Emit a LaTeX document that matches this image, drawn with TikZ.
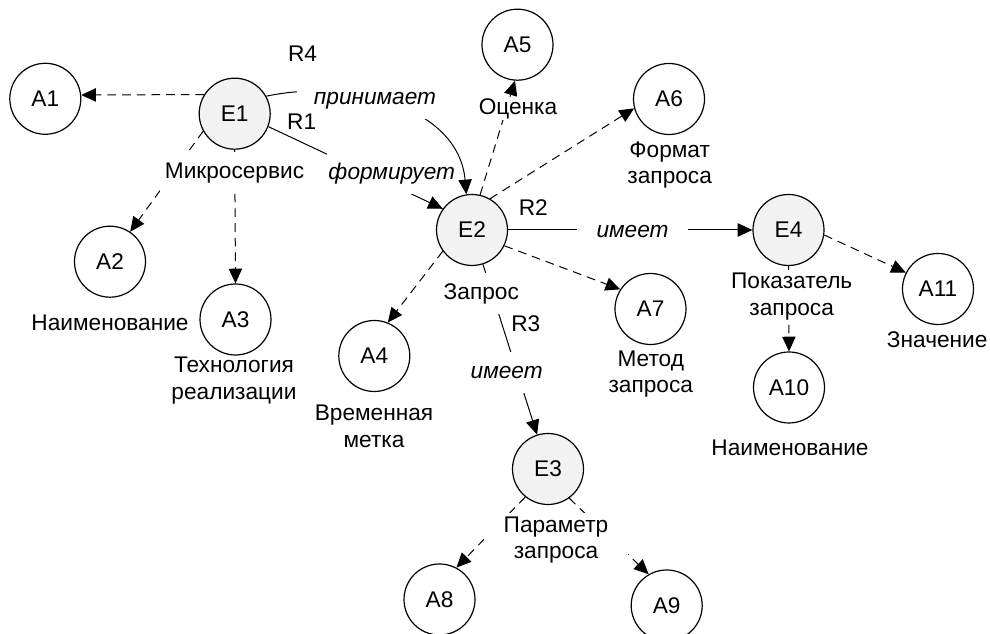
\documentclass[tikz,border=0pt]{standalone}
\usepackage{fontspec}
\setmainfont{Liberation Sans}
\usetikzlibrary{arrows.meta}
\definecolor{efill}{RGB}{242,242,242}
\begin{document}
\begin{tikzpicture}[x=0.75pt,y=0.75pt,
  font=\fontsize{17}{20}\selectfont,
  ent/.style={circle, draw, line width=0.9pt, fill=efill, minimum size=53.25pt, inner sep=0pt},
  attr/.style={circle, draw, line width=0.9pt, fill=white, minimum size=53.25pt, inner sep=0pt},
  conn/.style={line width=0.75pt},
  att/.style={conn, dash pattern=on 6.5pt off 4.5pt, -{Triangle[length=11pt,width=10pt]}},
  rel/.style={conn, -{Triangle[length=11pt,width=10pt]}},
  lbl/.style={fill=white, inner sep=0.5pt, align=center},
  one/.style={text height=12.5pt, text depth=3.5pt},
  rtxt/.style={font=\fontsize{17}{20}\selectfont\itshape}
]
\useasboundingbox (0,0) rectangle (990,634);

% nodes
\node[attr] (a1) at (45.3,535.2) {A1};
\node[ent]  (e1) at (234.7,520.3) {E1};
\node[attr] (a2) at (110,372.3) {A2};
\node[attr] (a3) at (235.5,314.5) {A3};
\node[ent]  (e2) at (472,404) {E2};
\node[attr] (a4) at (374.3,278) {A4};
\node[attr] (a5) at (517.5,589.3) {A5};
\node[attr] (a6) at (669,535) {A6};
\node[attr] (a7) at (650.5,325) {A7};
\node[ent]  (e3) at (548,165) {E3};
\node[attr] (a8) at (439.5,34.5) {A8};
\node[attr] (a9) at (666.7,28.5) {A9};
\node[ent]  (e4) at (788.5,404) {E4};
\node[attr] (a10) at (789,246.5) {A10};
\node[attr] (a11) at (938,345) {A11};

% attribute connectors
\draw[att] (e1.148) -- (a1.6);
\draw[att] (e1.209) -- (a2.56);
\draw[att] (e1.south) -- (a3.north);
\draw[att] (e2.216) -- (a4.68);
\draw[att] (e2.77) -- (a5.266);
\draw[att] (e2.60) -- (a6.195);
\draw[att] (e2.334) -- (a7.147);
\draw[att] (e3.231) -- (a8.62);
\draw[att] (e3.306) -- (a9.120);
\draw[att] (e4.south) -- (a10.north);
\draw[att] (e4.352) -- (a11.153);

% relation connectors
\draw[rel] (e1.339) -- (e2.144);
\draw[rel] (e2) -- (e4);
\draw[rel] (e2) -- (e3);

% entity labels
\node[lbl, one, inner xsep=4pt, inner ysep=7.5pt] (l-e1) at (234.5,461.7) {Микросервис};
\node[lbl, one, inner xsep=1pt, inner ysep=7.4pt] (l-e2) at (481.3,340.7) {Запрос};
\node[lbl, inner xsep=15pt, inner ysep=3pt] (l-e3) at (556,94) {Параметр\\запроса};
\node[lbl, inner xsep=1pt, inner ysep=2.7pt] (l-e4) at (791.7,337.3) {Показатель\\запроса};

% attribute labels
\node[lbl, one] (l-a2) at (110,309) {Наименование};
\node[lbl] (l-a3) at (234,253.2) {Технология\\реализации};
\node[lbl] (l-a4) at (374,207.5) {Временная\\метка};
\node[lbl, one] (l-a5) at (518,525.7) {Оценка};
\node[lbl] (l-a6) at (669.7,469) {Формат\\запроса};
\node[lbl] (l-a7) at (650.8,259.8) {Метод\\запроса};
\node[lbl, one] (l-a10) at (790,184) {Наименование};
\node[lbl, one] (l-a11) at (937.2,292.3) {Значение};

% relation labels
\node[lbl, one, rtxt, inner xsep=1pt, inner ysep=7.4pt] (l-r1) at (391.7,460.7) {формирует};
\node[lbl, one, rtxt, inner xsep=14.5pt, inner ysep=7.4pt] (l-r2) at (632.5,402.3) {имеет};
\node[lbl, one, rtxt, inner xsep=1pt, inner ysep=7.4pt] (l-r3) at (506.7,261.3) {имеет};

\draw[rel] (e1.29) to[out=12,in=95] (e2.99);
\node[lbl, one, rtxt, inner xsep=12.5pt, inner ysep=7.4pt] (l-r4) at (375,535.7) {принимает};

\node (n-r4) at (302.5,580.7) {R4};
\node (n-r1) at (301.7,512.3) {R1};
\node (n-r2) at (533.3,426.7) {R2};
\node (n-r3) at (525.8,310.7) {R3};
\end{tikzpicture}
\end{document}
